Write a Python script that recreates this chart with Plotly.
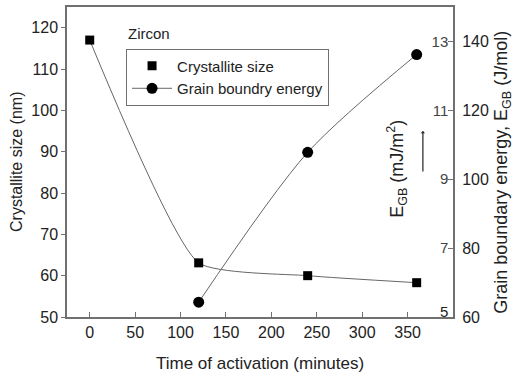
import plotly.graph_objects as go

# Data
time_min = [0, 120, 240, 360]
crystallite_nm = [117, 63.1, 60.0, 58.3]
gb_time = [120, 240, 360]
gb_energy_jmol = [64.3, 107.8, 136.2]

x_ticks = [0, 50, 100, 150, 200, 250, 300, 350, 400]
left_ticks = [50, 60, 70, 80, 90, 100, 110, 120]
right_outer_ticks = [60, 80, 100, 120, 140]
right_inner_ticks = [5, 7, 9, 11, 13]

FONT = "Liberation Sans, Arial, sans-serif"
AX = "#707070"
TXT = "#222222"
LINE = "#666666"

fig = go.Figure()

fig.add_trace(go.Scatter(x=time_min, y=crystallite_nm, mode="lines",
                         line=dict(color=LINE, width=1, shape="spline", smoothing=0.5),
                         showlegend=False, hoverinfo="skip"))
fig.add_trace(go.Scatter(x=time_min, y=crystallite_nm, mode="markers", name="Crystallite size",
                         marker=dict(symbol="square", size=9, color="black")))
fig.add_trace(go.Scatter(x=gb_time, y=gb_energy_jmol, mode="lines+markers", name="Grain boundry energy",
                         yaxis="y2",
                         line=dict(color=LINE, width=1, shape="spline", smoothing=0.8),
                         marker=dict(symbol="circle", size=11, color="black")))
fig.add_trace(go.Scatter(x=[None], y=[None], yaxis="y3", showlegend=False))

fig.update_layout(
    width=514, height=381,
    margin=dict(l=67, r=61, t=5, b=64),
    paper_bgcolor="white", plot_bgcolor="white",
    font=dict(family=FONT, size=15, color=TXT),
    xaxis=dict(range=[-25, 400], tickvals=x_ticks, ticks="inside", ticklen=5, tickcolor=AX,
               showline=True, linecolor=AX, linewidth=1.5, mirror=True, showgrid=False,
               zeroline=False, tickfont=dict(size=16)),
    yaxis=dict(range=[50, 125], tickvals=left_ticks, ticks="outside", ticklen=4, tickcolor=AX,
               showline=True, linecolor=AX, linewidth=1.5, showgrid=False, zeroline=False,
               tickfont=dict(size=16)),
    yaxis2=dict(range=[60, 150], tickvals=right_outer_ticks, overlaying="y", side="right",
                ticks="outside", ticklen=5, tickcolor="rgba(0,0,0,0)",
                showline=False, showgrid=False, zeroline=False,
                tickfont=dict(size=16)),
    yaxis3=dict(range=[5, 14], tickvals=right_inner_ticks[1:], overlaying="y", side="right",
                ticks="inside", ticklen=5, tickcolor=AX, ticklabelposition="inside",
                showline=True, linecolor=AX, linewidth=1.5, showgrid=False, zeroline=False,
                tickfont=dict(size=15)),
    legend=dict(x=0.153, y=0.866, xanchor="left", yanchor="top",
                bordercolor=AX, borderwidth=1, bgcolor="white", itemwidth=40,
                font=dict(size=15, color=TXT)),
    showlegend=True,
)

# bottom inner-right tick label (sits in the corner)
fig.add_annotation(text=str(right_inner_ticks[0]), xref="paper", yref="y3",
                   x=1, y=right_inner_ticks[0], xshift=-3, yshift=-5,
                   xanchor="right", yanchor="bottom", showarrow=False, font=dict(size=15))

fig.add_annotation(text="Time of activation (minutes)", xref="paper", yref="paper",
                   x=0.5, y=0, yshift=-46, xanchor="center", yanchor="middle",
                   showarrow=False, font=dict(size=17))
fig.add_annotation(text="Crystallite size (nm)", xref="paper", yref="paper",
                   x=0, y=0.50, xshift=-51, xanchor="center", yanchor="middle",
                   textangle=-90, showarrow=False, font=dict(size=16))
fig.add_annotation(text="Grain boundary energy, E<sub>GB</sub> (J/mol)", xref="paper", yref="paper",
                   x=1, y=0.465, xshift=50, xanchor="center", yanchor="middle",
                   textangle=-90, showarrow=False, font=dict(size=18))
fig.add_annotation(text="E<sub>GB</sub> (mJ/m<sup>2</sup>)", xref="paper", yref="paper",
                   x=0.855, y=0.478, xanchor="center", yanchor="middle",
                   textangle=-90, showarrow=False, font=dict(size=18))
fig.add_annotation(text="", xref="paper", yref="paper", x=0.922, y=0.6,
                   ax=0, ay=42, showarrow=True, arrowhead=1, arrowsize=0.6, arrowwidth=1.2,
                   arrowcolor="#222")
fig.add_annotation(text="Zircon", xref="paper", yref="paper", x=0.153, y=0.913,
                   xanchor="left", yanchor="middle", showarrow=False, font=dict(size=15))

fig.write_html("out.html")
